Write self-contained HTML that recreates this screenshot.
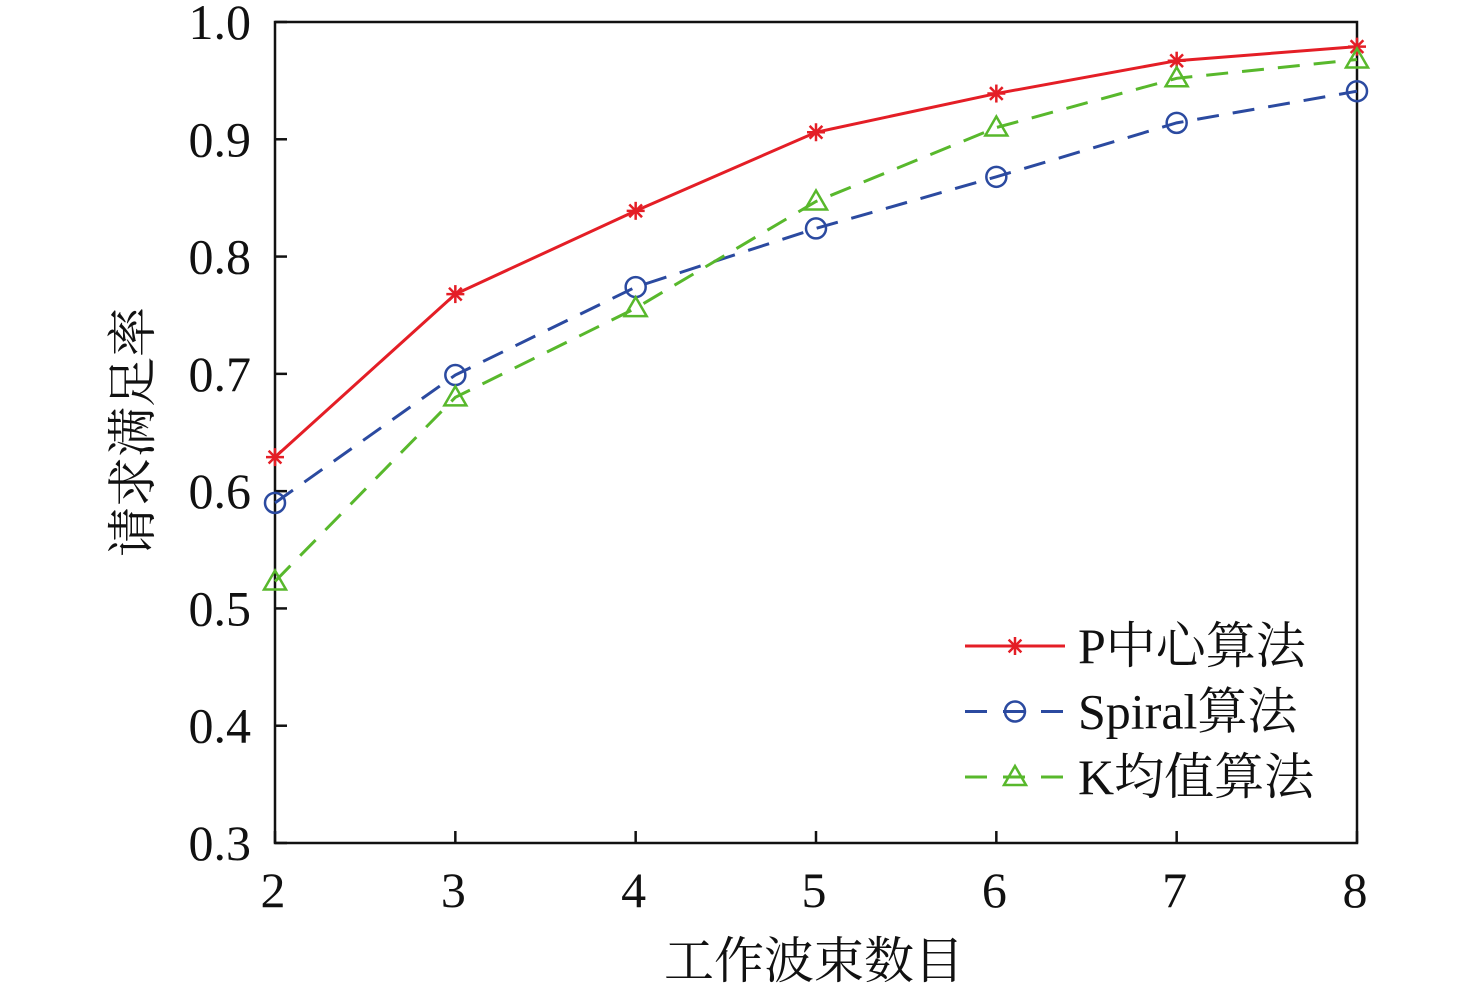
<!DOCTYPE html>
<html><head><meta charset="utf-8"><style>
body{margin:0;background:#fff;}
svg text{font-family:"Liberation Serif","Noto Serif CJK SC",serif;fill:#111;}
</style></head><body>
<svg id="chart" width="1476" height="994" viewBox="0 0 1476 994" xmlns="http://www.w3.org/2000/svg">
<g id="axes"></g><g id="series"></g><g id="legend"></g>
</svg>
<script>
const categories=[2,3,4,5,6,7,8];
const pValues=[0.629,0.768,0.839,0.906,0.939,0.967,0.979];
const spiralValues=[0.590,0.699,0.774,0.824,0.868,0.914,0.941];
const kValues=[0.523,0.680,0.756,0.847,0.910,0.952,0.968];
const yTicks=["0.3","0.4","0.5","0.6","0.7","0.8","0.9","1.0"];
const xTicks=["2","3","4","5","6","7","8"];
const seriesNames=["P中心算法","Spiral算法","K均值算法"];

const NS="http://www.w3.org/2000/svg";
const L=275,R=1357,T=22,B=843;
const xS=v=>L+(v-2)/6*(R-L);
const yS=v=>B-(v-0.3)/0.7*(B-T);
function mk(tag,attrs,parent){const e=document.createElementNS(NS,tag);for(const k in attrs)e.setAttribute(k,attrs[k]);parent.appendChild(e);return e;}
const axes=document.getElementById('axes');
const frame=mk('rect',{x:L,y:T,width:R-L,height:B-T,fill:'none',stroke:'#111','stroke-width':2.5},axes);


yTicks.forEach(t=>{const y=yS(parseFloat(t));
 const tk=mk('line',{x1:L,x2:L+12,y1:y,y2:y,stroke:'#111','stroke-width':2.5},axes);
 
 
 const tx=mk('text',{x:L-24,y:y+17,'text-anchor':'end','font-size':50},axes);tx.textContent=t;
 
 });
xTicks.forEach(t=>{const x=xS(parseFloat(t));
 const tk=mk('line',{x1:x,x2:x,y1:B,y2:B-12,stroke:'#111','stroke-width':2.5},axes);
 
 
 const tx=mk('text',{x:x-2,y:907,'text-anchor':'middle','font-size':50},axes);tx.textContent=t;
 
 });
const xt=mk('text',{x:814,y:978,'text-anchor':'middle','font-size':50},axes);xt.textContent='工作波束数目';


const yt=mk('text',{x:0,y:0,'text-anchor':'middle','font-size':50,transform:'translate(150,432) rotate(-90)'},axes);yt.textContent='请求满足率';



function marker(type,x,y,color,g){
 if(type==='star'){for(let a=0;a<4;a++){const an=a*Math.PI/4;mk('line',{x1:x-9*Math.cos(an),y1:y-9*Math.sin(an),x2:x+9*Math.cos(an),y2:y+9*Math.sin(an),stroke:color,'stroke-width':2.5},g);}}
 else if(type==='circle'){mk('circle',{cx:x,cy:y,r:10,fill:'none',stroke:color,'stroke-width':2.5},g);}
 else{mk('polygon',{points:`${x},${y-11} ${x-11},${y+8} ${x+11},${y+8}`,fill:'none',stroke:color,'stroke-width':2.5},g);}
}
const defs=[[pValues,'#e41e26','star',''],[spiralValues,'#2b4aa0','circle','22,14'],[kValues,'#58b82c','tri','22,14']];
const sg=document.getElementById('series');
defs.forEach((d,i)=>{
 const g=mk('g',{},sg);
 
 
 const pts=categories.map((c,j)=>xS(c)+','+yS(d[0][j])).join(' ');
 const pl=mk('polyline',{points:pts,fill:'none',stroke:d[1],'stroke-width':3,'stroke-dasharray':d[3]},g);
 
 
 categories.forEach((c,j)=>marker(d[2],xS(c),yS(d[0][j]),d[1],g));
 const lg=document.getElementById('legend');
 const ly=646+i*65.5;
 const le=mk('g',{},lg);
 
 
 mk('line',{x1:965,x2:1065,y1:ly,y2:ly,stroke:d[1],'stroke-width':3,'stroke-dasharray':d[3]?'22,16':''},le);
 marker(d[2],1015,ly,d[1],le);
 const t=mk('text',{x:1078,y:ly+17,'font-size':50},le);t.textContent=seriesNames[i];
});
</script>
</body></html>
